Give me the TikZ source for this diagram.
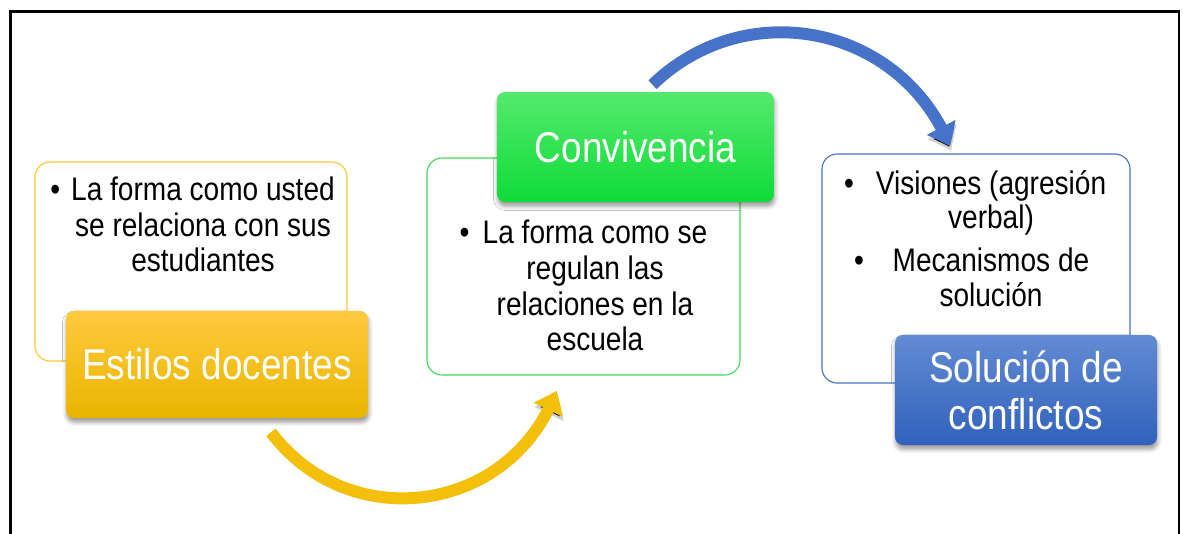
\documentclass[tikz,border=0pt]{standalone}
\usepackage{fontspec}
\setmainfont{Liberation Sans}[FakeStretch=0.86]
\usetikzlibrary{arrows.meta,bending,shadows.blur}
\definecolor{ylwline}{HTML}{FFC82E}
\definecolor{ylwtop}{HTML}{FFCA3E}
\definecolor{ylwbot}{HTML}{E9B500}
\definecolor{grnline}{HTML}{3FDC5C}
\definecolor{grntop}{HTML}{55E96D}
\definecolor{grnbot}{HTML}{0EDC38}
\definecolor{bluline}{HTML}{4472C4}
\definecolor{blutop}{HTML}{628BD3}
\definecolor{blubot}{HTML}{3161BC}
\definecolor{ylwarrow}{HTML}{F3BF0A}
\definecolor{bluarrow}{HTML}{4673C8}

\begin{document}
\begin{tikzpicture}[x=0.025cm, y=0.025cm,
    outline/.style={draw, line width=0.8pt, fill=white, rounded corners=0.38cm},
    titlebox/.style={rounded corners=0.2cm, text=white, align=center,
        font=\fontsize{30.6}{33.4}\selectfont,
        blur shadow={shadow xshift=0.5pt, shadow yshift=-3pt, shadow blur radius=3pt, shadow opacity=40}},
    bodytext/.style={align=center, inner sep=0pt, anchor=north},
    arcarrow/.style={line width=8.5pt, -{Triangle[length=15pt, width=22pt, bend]},
        preaction={draw=black, draw opacity=0.18, transform canvas={shift={(0.5pt,-3pt)}}}}]
    \useasboundingbox (0,0) rectangle (1183,-533);
    % Frame
    \draw[line width=2.1pt] (10.5,-11.5) rectangle (1179,-570);

    % Outline boxes
    \node[outline, draw=ylwline, minimum width=7.8cm, minimum height=4.975cm] (body1) at (191,-261.5) {};
    \node[outline, draw=grnline, minimum width=7.825cm, minimum height=5.425cm] (body2) at (583.5,-266.5) {};
    \node[outline, draw=bluline, minimum width=7.7cm, minimum height=5.725cm] (body3) at (976,-268.5) {};

    % Texts
    \node[bodytext, font=\fontsize{23.2}{25}\selectfont] (text1) at (203,-177)
        {\leavevmode\llap{\textbullet\hspace{0.275cm}}La forma como usted\\se relaciona con sus\\estudiantes};
    \node[bodytext, font=\fontsize{23.2}{25.3}\selectfont] (text2) at (595,-220)
        {\leavevmode\llap{\textbullet\hspace{0.33cm}}La forma como se\\regulan las\\relaciones en la\\escuela};
    \node[bodytext, font=\fontsize{23.2}{24.6}\selectfont] (text3) at (991,-170)
        {\leavevmode\llap{\textbullet\hspace{0.55cm}}Visiones (agresión\\verbal)\\[0.2cm]\leavevmode\llap{\textbullet\hspace{0.72cm}}Mecanismos de\\solución};

    % Title boxes
    \node[titlebox, top color=ylwtop, bottom color=ylwbot, minimum width=7.55cm, minimum height=2.675cm] (estilos) at (217,-364.5) {Estilos docentes};
    \node[titlebox, top color=grntop, bottom color=grnbot, minimum width=6.925cm, minimum height=2.75cm] (conv) at (635.5,-147) {Convivencia};
    \node[titlebox, top color=blutop, bottom color=blubot, minimum width=6.55cm, minimum height=2.75cm] (solucion) at (1026,-390) {Solución de\\conflictos};

    % Arrows
    \draw[arcarrow, ylwarrow] ([shift={(54,-14)}]estilos.south) to[out=-53, in=-110, looseness=1.16] ([shift={(-27,-15)}]body2.south);
    \draw[arcarrow, bluarrow] ([shift={(17,7)}]conv.north) to[out=44, in=112, looseness=1.1] ([shift={(-26,7)}]body3.north);
\end{tikzpicture}
\end{document}
